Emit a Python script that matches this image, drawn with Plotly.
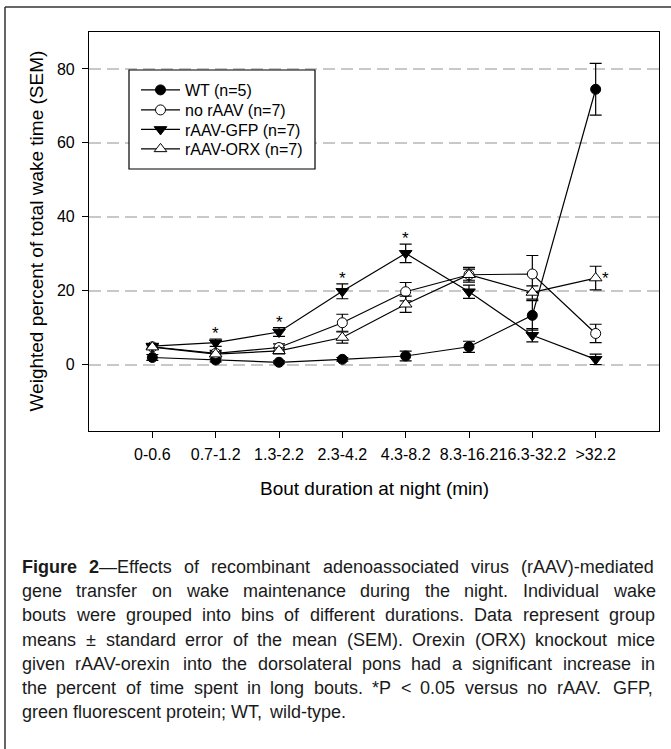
import plotly.graph_objects as go

# ---------------- data ----------------
categories = ["0-0.6", "0.7-1.2", "1.3-2.2", "2.3-4.2", "4.3-8.2", "8.3-16.2", "16.3-32.2", ">32.2"]

wt = [1.9, 1.2, 0.6, 1.4, 2.3, 4.8, 13.3, 74.5]
wt_err = [0.8, 0.5, 0.4, 0.5, 1.3, 1.5, 4.0, 7.0]

no_raav = [4.8, 3.0, 4.6, 11.3, 19.7, 24.3, 24.5, 8.4]
no_raav_err = [0.6, 0.8, 1.0, 2.3, 2.5, 1.5, 5.0, 2.5]

gfp = [5.0, 5.9, 8.8, 19.8, 30.1, 19.7, 7.9, 1.4]
gfp_err = [0.6, 1.0, 1.2, 2.0, 2.5, 1.8, 1.8, 1.4]

orx = [4.7, 2.8, 3.7, 7.3, 16.3, 24.3, 19.5, 23.4]
orx_err = [0.6, 0.6, 0.8, 1.5, 2.2, 2.0, 1.8, 3.2]

series_names = ["WT (n=5)", "no rAAV (n=7)", "rAAV-GFP (n=7)", "rAAV-ORX (n=7)"]

star_gfp_idx = [1, 2, 3, 4]
star_orx_idx = [7]

y_ticks = [0, 20, 40, 60, 80]

x_title = "Bout duration at night (min)"
y_title = "Weighted percent of total wake time (SEM)"

caption_lines = [
    "<b>Figure</b> <b>2</b>—Effects of recombinant adenoassociated virus (rAAV)-mediated",
    "gene transfer on wake maintenance during the night. Individual wake",
    "bouts were grouped into bins of different durations. Data represent group",
    "means ± standard error of the mean (SEM). Orexin (ORX) knockout mice",
    "given rAAV-orexin into the dorsolateral pons had a significant increase in",
    "the percent of time spent in long bouts. *P < 0.05 versus no rAAV. GFP,",
    "green fluorescent protein; WT, wild-type.",
]

# ---------------- layout geometry ----------------
W, H = 671, 749
PL, PR, PT, PB = 89, 659, 32, 431   # plot area in pixels
FONT = "Liberation Sans, Arial, Helvetica, sans-serif"


def px2x(px):
    return (px - PL) / (PR - PL)


def px2y(py):
    return (PB - py) / (PB - PT)


# Helvetica/Arial advance widths (per 1000 em)
REG = {' ': 278, '!': 278, '(': 333, ')': 333, '*': 389, ',': 278, '-': 333, '.': 278, ';': 278,
       '<': 584, '=': 584, '>': 584, '±': 584, '—': 1000,
       'A': 667, 'B': 667, 'C': 722, 'D': 722, 'E': 667, 'F': 611, 'G': 778, 'H': 722, 'I': 278,
       'J': 500, 'K': 667, 'L': 556, 'M': 833, 'N': 722, 'O': 778, 'P': 667, 'Q': 778, 'R': 722,
       'S': 667, 'T': 611, 'U': 722, 'V': 667, 'W': 944, 'X': 667, 'Y': 667, 'Z': 611,
       'a': 556, 'b': 556, 'c': 500, 'd': 556, 'e': 556, 'f': 278, 'g': 556, 'h': 556, 'i': 222,
       'j': 222, 'k': 500, 'l': 222, 'm': 833, 'n': 556, 'o': 556, 'p': 556, 'q': 556, 'r': 333,
       's': 500, 't': 278, 'u': 556, 'v': 500, 'w': 722, 'x': 500, 'y': 500, 'z': 500}
BOLD = {'F': 611, 'i': 278, 'g': 611, 'u': 611, 'r': 389, 'e': 556, '2': 556}
for d in '0123456789':
    REG[d] = 556


def word_width(word, size):
    total = 0
    bold = False
    i = 0
    while i < len(word):
        if word.startswith("<b>", i):
            bold = True
            i += 3
            continue
        if word.startswith("</b>", i):
            bold = False
            i += 4
            continue
        ch = word[i]
        total += (BOLD.get(ch, 556) if bold else REG.get(ch, 556))
        i += 1
    return total * size / 1000.0


# ---------------- figure ----------------
fig = go.Figure()

styles = [
    dict(symbol="circle", size=10, color="black"),
    dict(symbol="circle", size=10, color="white"),
    dict(symbol="triangle-down", size=11, color="black"),
    dict(symbol="triangle-up", size=11, color="white"),
]
values = [wt, no_raav, gfp, orx]
errors = [wt_err, no_raav_err, gfp_err, orx_err]
legend_ids = ["legend", "legend2", "legend3", "legend4"]
legend_rows_px = [90, 110, 129.5, 149]

for name, vals, errs, st, lg in zip(series_names, values, errors, styles, legend_ids):
    fig.add_trace(go.Scatter(
        x=categories, y=vals, name=name, mode="lines+markers", legend=lg,
        line=dict(color="black", width=1.2),
        marker=dict(symbol=st["symbol"], size=st["size"], color=st["color"],
                    line=dict(color="black", width=1)),
        error_y=dict(type="data", array=errs, visible=True, color="black",
                     thickness=1.2, width=6),
    ))

annotations = []
for i in star_gfp_idx:
    annotations.append(dict(x=categories[i], y=gfp[i] + gfp_err[i], xref="x", yref="y",
                            text="*", showarrow=False, yanchor="bottom", yshift=-6,
                            font=dict(size=17, color="black", family=FONT)))
for i in star_orx_idx:
    annotations.append(dict(x=categories[i], y=orx[i], xref="x", yref="y",
                            text="*", showarrow=False, xanchor="center", yanchor="middle",
                            xshift=10, yshift=0,
                            font=dict(size=17, color="black", family=FONT)))

# axis titles
annotations.append(dict(x=px2x(374), y=px2y(488), xref="paper", yref="paper", text=x_title,
                        showarrow=False, xanchor="center", yanchor="middle",
                        font=dict(size=19, color="black", family=FONT)))
annotations.append(dict(x=px2x(36), y=px2y(231.5), xref="paper", yref="paper", text=y_title,
                        showarrow=False, xanchor="center", yanchor="middle", textangle=-90,
                        font=dict(size=19, color="black", family=FONT)))

# caption, justified word by word
CAP_L, CAP_R = 21, 654
CAP_SIZE = 18
CAP_Y0, CAP_DY = 567, 24.2
for li, line in enumerate(caption_lines):
    words = line.split(" ")
    widths = [word_width(w, CAP_SIZE) for w in words]
    if li == len(caption_lines) - 1:
        gap = REG[' '] * CAP_SIZE / 1000.0
    else:
        gap = (CAP_R - CAP_L - sum(widths)) / (len(words) - 1)
    xpos = CAP_L
    ypx = CAP_Y0 + li * CAP_DY
    for w, wd in zip(words, widths):
        annotations.append(dict(x=px2x(xpos), y=px2y(ypx), xref="paper", yref="paper",
                                text=w, showarrow=False, xanchor="left", yanchor="middle",
                                borderpad=0,
                                font=dict(size=CAP_SIZE, color="#1a1a1a", family=FONT)))
        xpos += wd + gap

shapes = [
    # legend box
    dict(type="rect", xref="paper", yref="paper", x0=px2x(129), x1=px2x(315),
         y0=px2y(70), y1=px2y(169), line=dict(color="black", width=1.2),
         fillcolor="white", layer="above"),
    # outer frame (left and top)
    dict(type="line", xref="paper", yref="paper", x0=px2x(5), x1=px2x(5),
         y0=px2y(7), y1=px2y(760), line=dict(color="#333333", width=1.5)),
    dict(type="line", xref="paper", yref="paper", x0=px2x(5), x1=px2x(680),
         y0=px2y(7), y1=px2y(7), line=dict(color="#333333", width=1.5)),
]

layout_legends = {}
for lg, row in zip(legend_ids, legend_rows_px):
    layout_legends[lg] = dict(x=px2x(136), y=px2y(row), xanchor="left", yanchor="middle",
                              bgcolor="rgba(0,0,0,0)", borderwidth=0, itemwidth=39,
                              font=dict(size=16, family=FONT, color="black"))

fig.update_layout(
    width=W, height=H,
    margin=dict(l=PL, r=W - PR, t=PT, b=H - PB, pad=0),
    paper_bgcolor="white", plot_bgcolor="white",
    font=dict(family=FONT, color="black", size=16),
    showlegend=True,
    annotations=annotations,
    shapes=shapes,
    **layout_legends,
)

fig.update_xaxes(
    type="category", range=[-1, 8], showgrid=False, zeroline=False,
    showline=True, linecolor="black", linewidth=1.2, mirror=True,
    ticks="outside", ticklen=6, tickwidth=1.2, tickcolor="black",
    tickfont=dict(size=16, family=FONT, color="black"),
    tickangle=0,
    ticklabelstandoff=3,
)
fig.update_yaxes(
    range=[-18, 90], tickvals=y_ticks, showgrid=True, gridcolor="#c8c8c8",
    gridwidth=1.5, griddash="12px,6px", zeroline=False,
    showline=True, linecolor="black", linewidth=1.2, mirror=True,
    ticks="outside", ticklen=6, tickwidth=1.2, tickcolor="black",
    tickfont=dict(size=16, family=FONT, color="black"),
    ticklabelstandoff=4,
)

fig.write_html("out.html")
